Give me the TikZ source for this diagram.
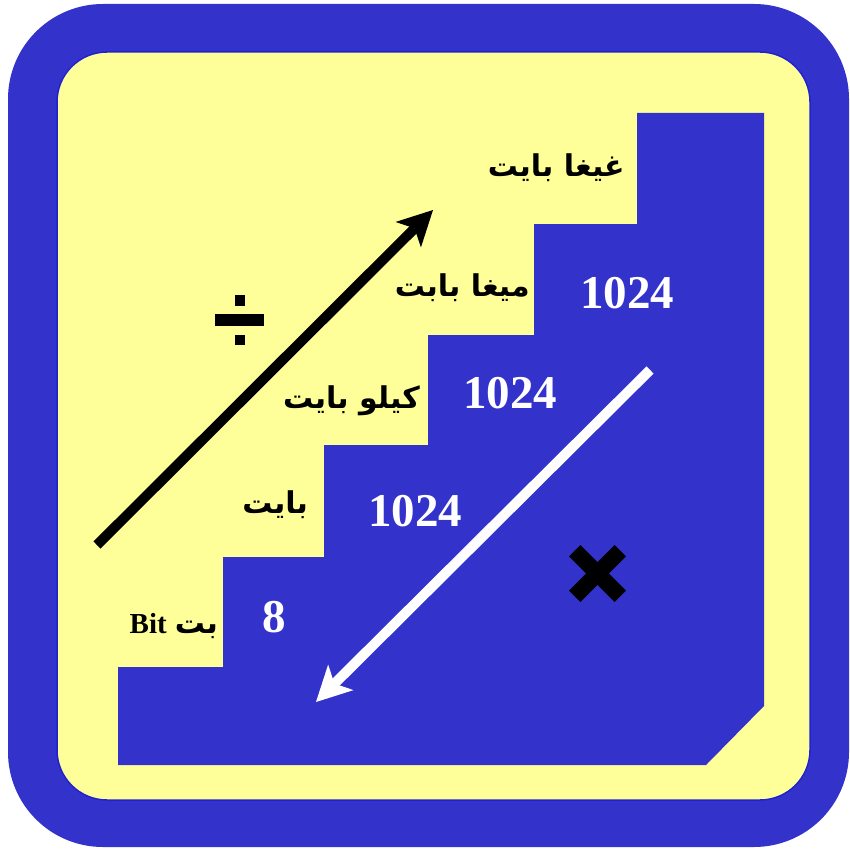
\documentclass[tikz,border=0pt]{standalone}
\usepackage{fontspec}
\usetikzlibrary{arrows.meta}
\TeXXeTstate=1
\newfontfamily\arabicfont[Script=Arabic]{DejaVu Sans}
\newfontfamily\numfont{Liberation Serif}
\definecolor{bgblue}{HTML}{3333CC}
\definecolor{bgyellow}{HTML}{FFFF99}
\definecolor{edgeblue}{HTML}{2222CC}
\begin{document}
\begin{tikzpicture}[x=1pt,y=-1pt,
  arlabel/.style={anchor=east,inner sep=0pt,font=\arabicfont\bfseries\fontsize{30}{34}\selectfont},
  numlabel/.style={inner sep=0pt,text=white,font=\numfont\bfseries\fontsize{47}{50}\selectfont},
  bigarrow/.style={line width=10pt,-{Stealth[length=35pt,width=36pt,inset=9pt,line width=0pt]}},
  ]
\useasboundingbox (0,0) rectangle (849,850);
% frame
\fill[bgblue,rounded corners=95pt] (8,4) rectangle (849,847);
\filldraw[fill=bgyellow,draw=edgeblue,line width=1.5pt,rounded corners=50pt] (57,52) rectangle (810,800);
% staircase
\fill[bgblue] (637,113) -- (764,113) -- (764,706) -- (706,765) -- (118,765) -- (118,667)
  -- (223,667) -- (223,557) -- (324,557) -- (324,445) -- (428,445) -- (428,335)
  -- (534,335) -- (534,224) -- (637,224) -- cycle;
% labels
\node[arlabel] (giga) at (625,168) {\beginR غيغا بايت\endR};
\node[arlabel] (mega) at (530,288) {\beginR ميغا بابت\endR};
\node[arlabel] (kilo) at (420,401) {\beginR كيلو بايت\endR};
\node[arlabel] (byte) at (308,505) {\beginR بايت\endR};
\node[anchor=east,inner sep=0pt] (bit) at (218,626)
  {{\numfont\bfseries\fontsize{29}{32}\selectfont Bit}\hspace{8pt}{\arabicfont\bfseries\fontsize{30}{34}\selectfont\beginR بت\endR}};
% numbers
\node[numlabel] (n1) at (627,293) {1024};
\node[numlabel] (n2) at (510,393) {1024};
\node[numlabel] (n3) at (415,511) {1024};
\node[numlabel] (n4) at (274,617) {8};
% division sign
\fill (215,314) rectangle (264,326);
\fill (235,295) rectangle (245,306);
\fill (235,335) rectangle (245,345);
% multiplication sign
\draw[line width=16pt] (574.7,550.7) -- (620.3,596.3);
\draw[line width=16pt] (620.3,550.7) -- (574.7,596.3);
% arrows
\coordinate (upA) at (97,545);
\coordinate (upB) at (433,210);
\coordinate (dnA) at (650,370);
\coordinate (dnB) at (316,702);
\draw[bigarrow,black] (upA) -- (upB);
\draw[bigarrow,white] (dnA) -- (dnB);
\end{tikzpicture}
\end{document}
